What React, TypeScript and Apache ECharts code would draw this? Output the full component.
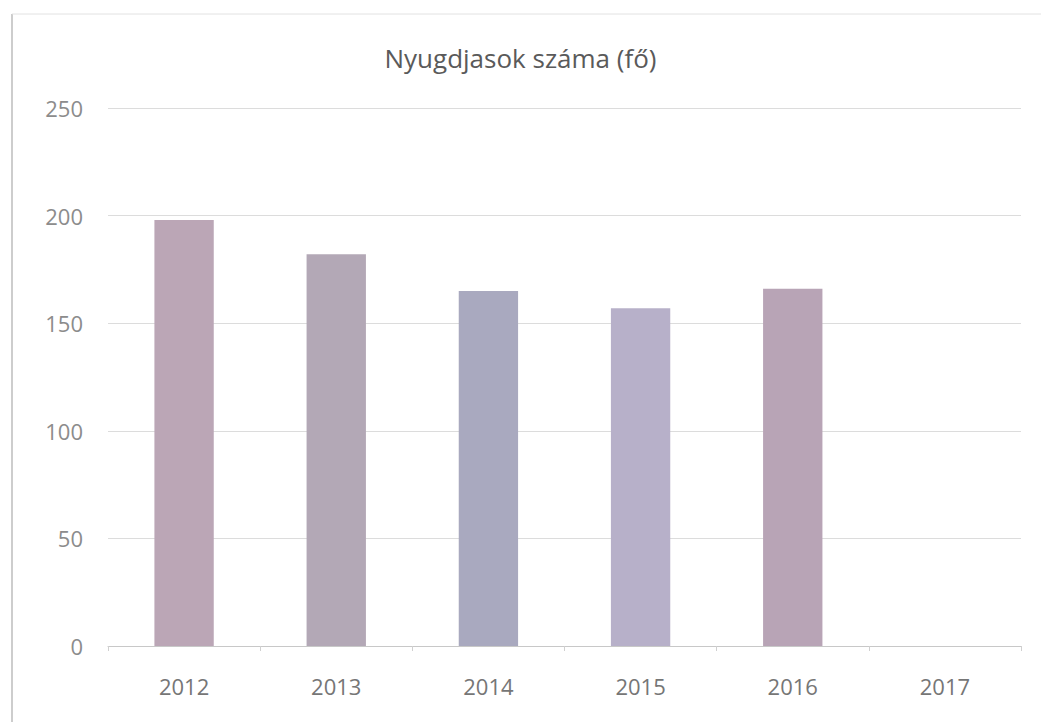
import React, { useEffect, useRef } from "react";
import * as echarts from "echarts";

const title = "Nyugdjasok száma (fő)";
const categories = ["2012", "2013", "2014", "2015", "2016", "2017"];
const values: (number | null)[] = [198, 182, 165, 157, 166, null];
const yTicks = { min: 0, max: 250, interval: 50 };
const barColors = ["#bba6b6", "#b3a8b6", "#a9a9bf", "#b7b0c9", "#b8a4b6", "#b8a4b6"];

export default function App() {
  const ref = useRef<HTMLDivElement>(null);
  useEffect(() => {
    if (!ref.current) return;
    const chart = echarts.init(ref.current, null, { renderer: "svg" });
    chart.setOption({
      animation: false,
      backgroundColor: "#ffffff",
      title: {
        text: title,
        left: "center",
        top: 40,
        textStyle: { fontFamily: "Open Sans", fontSize: 26, fontWeight: "normal", color: "#5a5a5a" },
      },
      grid: { left: 108, right: 20, top: 108, bottom: 76 },
      xAxis: {
        type: "category",
        data: categories,
        axisLine: { lineStyle: { color: "#c8c8c8", width: 1 } },
        axisTick: { show: true, length: 5, lineStyle: { color: "#d0d0d0" } },
        axisLabel: { margin: 29, fontFamily: "Open Sans", fontSize: 22, color: "#767676" },
      },
      yAxis: {
        type: "value",
        min: yTicks.min,
        max: yTicks.max,
        interval: yTicks.interval,
        axisLine: { show: false },
        axisTick: { show: false },
        splitLine: { lineStyle: { color: "#dcdcdc", width: 1 } },
        axisLabel: { margin: 25, fontFamily: "Open Sans", fontSize: 22, color: "#8c8c8c" },
      },
      series: [
        {
          type: "bar",
          data: values.map((v, i) => ({ value: v, itemStyle: { color: barColors[i] } })),
          barWidth: "39%",
        },
      ],
      graphic: [
        { type: "line", shape: { x1: 12, y1: 14, x2: 12, y2: 722 }, style: { stroke: "#bdbdbd", lineWidth: 1.5 } },
        { type: "line", shape: { x1: 12, y1: 14, x2: 1041, y2: 14 }, style: { stroke: "#e2e2e2", lineWidth: 1 } },
      ],
    });
    return () => chart.dispose();
  }, []);
  return <div ref={ref} style={{ width: 1041, height: 722, position: "absolute", left: 0, top: 0 }} />;
}
